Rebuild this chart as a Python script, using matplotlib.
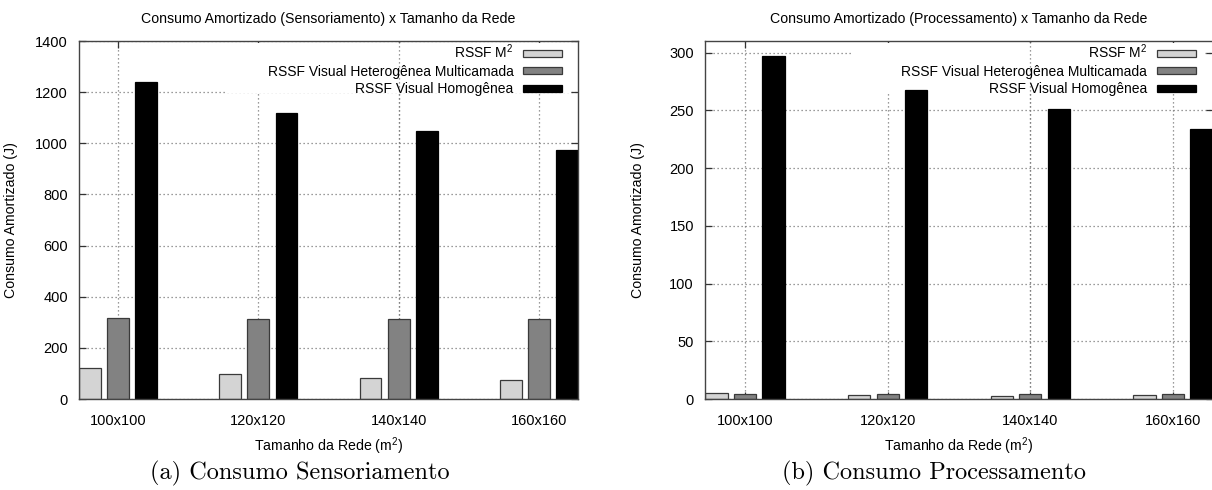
import numpy as np
import matplotlib
matplotlib.use("Agg")
import matplotlib.pyplot as plt
from matplotlib.patches import Rectangle

plt.rcParams['font.family'] = ['Liberation Sans', 'DejaVu Sans']
plt.rcParams['mathtext.fontset'] = 'custom'
plt.rcParams['mathtext.rm'] = 'Liberation Sans'
plt.rcParams['mathtext.it'] = 'Liberation Sans'

# Dados: consumo amortizado (J) por tamanho da rede
tamanhos = ['100x100', '120x120', '140x140', '160x160']
series = ['RSSF M$^2$', 'RSSF Visual Heterogênea Multicamada', 'RSSF Visual Homogênea']

sens_m2 = [121, 97, 82, 73]
sens_hetero = [316, 313, 314, 314]
sens_homog = [1240, 1118, 1047, 975]

proc_m2 = [5.5, 3.7, 3.0, 3.2]
proc_hetero = [4.6, 4.6, 4.6, 4.0]
proc_homog = [297, 268, 251, 234]

cores = ['#d4d4d4', '#828282', '#000000']
bordas = ['#3a3a3a', '#3a3a3a', '#000000']

W, H = 1212, 490
fig = plt.figure(figsize=(W / 100, H / 100), dpi=100)
ax1 = fig.add_axes([79 / W, (H - 399) / H, (578 - 79) / W, 358 / H])
ax2 = fig.add_axes([705 / W, (H - 399) / H, (1213 - 705) / W, 358 / H])

x = np.arange(len(tamanhos))
passo = 0.2
largura = 0.156
grid_kw = dict(color='#7a7a7a', linewidth=0.9, linestyle=(0, (1, 2.2)))


def grafico(ax, valores, ylim, yticks, titulo, legenda_x, ylabel_x):
    for i, v in enumerate(valores):
        ax.bar(x + (i - 1) * passo, v, largura, color=cores[i],
               edgecolor=bordas[i], linewidth=0.9, label=series[i], zorder=2)
    ax.set_xlim(-0.28, 3.28)
    ax.set_ylim(*ylim)
    ax.set_yticks(yticks)
    ax.set_xticks(x)
    ax.set_xticklabels(tamanhos)
    ax.grid(True, zorder=0, **grid_kw)
    ax.set_axisbelow(True)
    # area em branco atras da legenda (estilo gnuplot)
    x0 = ax.transData.transform((x[1] - 0.24, 0))[0]
    x0 = ax.transAxes.inverted().transform((x0, 0))[0]
    ax.add_patch(Rectangle((x0, 0.855), 0.985 - x0, 0.14, transform=ax.transAxes,
                           facecolor='white', edgecolor='none', zorder=1))
    ax.axvline(x[2], zorder=1.5, **grid_kw)
    ax.tick_params(direction='in', top=True, right=True, length=5, width=0.9,
                   color='#333333', labelsize=10.5)
    ax.tick_params(axis='y', pad=8)
    ax.tick_params(axis='x', pad=11)
    for s in ax.spines.values():
        s.set_color('#444444')
        s.set_linewidth(1.0)
    ax.set_title(titulo, fontsize=10.2, pad=13)
    ax.set_xlabel('Tamanho da Rede (m$^2$)', fontsize=10.2, labelpad=5)
    ax.set_ylabel('Consumo Amortizado (J)', fontsize=10.2)
    ax.yaxis.set_label_coords(ylabel_x, 0.5)
    ax.legend(loc='upper right', bbox_to_anchor=(legenda_x, 0.995), frameon=False,
              markerfirst=False, fontsize=10, handlelength=2.8, handleheight=0.4,
              handletextpad=0.7, labelspacing=0.25, borderpad=0, borderaxespad=0)


grafico(ax1, [sens_m2, sens_hetero, sens_homog], (0, 1400), range(0, 1401, 200),
        'Consumo Amortizado (Sensoriamento) x Tamanho da Rede', 0.968, (18 - 79) / 499)
grafico(ax2, [proc_m2, proc_hetero, proc_homog], (0, 310), range(0, 301, 50),
        'Consumo Amortizado (Processamento) x Tamanho da Rede', 0.966, (645 - 705) / 508)

fig.text(300 / W, 1 - 473 / H, '(a) Consumo Sensoriamento', family='cmr10',
         fontsize=17.5, ha='center', va='center')
fig.text(934 / W, 1 - 473 / H, '(b) Consumo Processamento', family='cmr10',
         fontsize=17.5, ha='center', va='center')

fig.savefig('out.png', dpi=100)
